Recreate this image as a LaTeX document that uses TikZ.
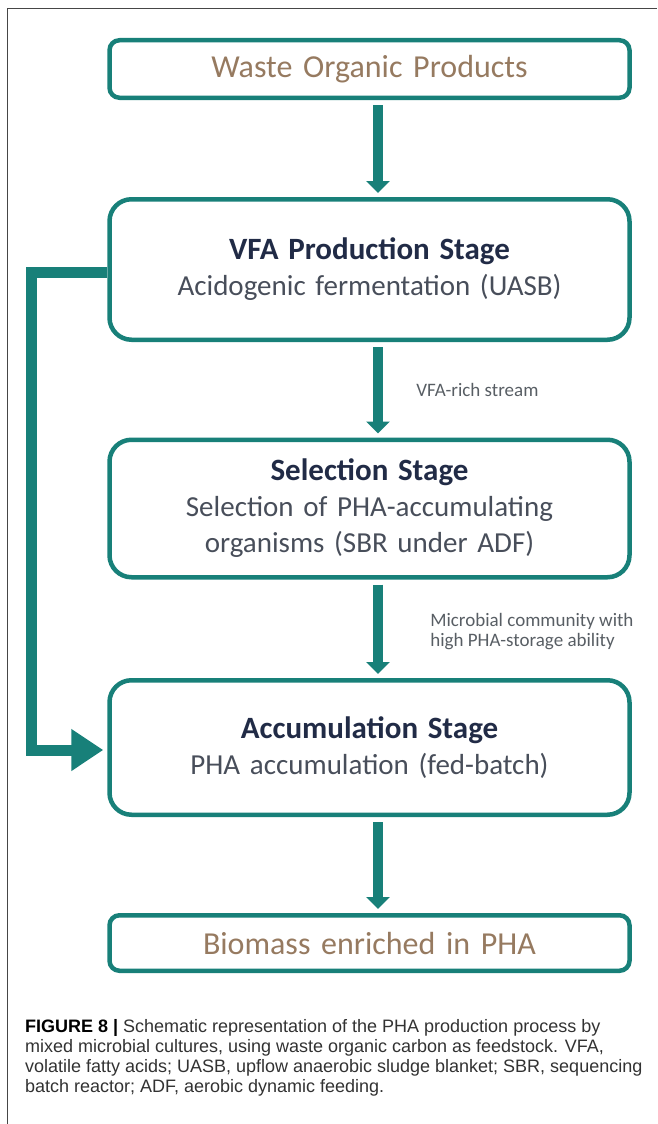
\documentclass[tikz,border=0pt]{standalone}
\usepackage{fontspec}
\setmainfont{Carlito}
\newfontfamily\capfont{Liberation Sans}
\usepackage{tikz}
\usetikzlibrary{arrows.meta, positioning}
\definecolor{teal}{RGB}{24,128,121}
\definecolor{tan}{RGB}{150,122,96}
\definecolor{navy}{RGB}{33,43,70}
\definecolor{slate}{RGB}{72,78,90}
\definecolor{note}{RGB}{88,94,100}
\definecolor{framegrey}{RGB}{70,70,70}
\definecolor{capgrey}{RGB}{50,50,50}
\newcommand{\stagehead}[1]{{\fontsize{31}{37}\selectfont\bfseries\color{navy}#1}}
\tikzstyle{stage} = [rectangle, rounded corners=22pt,
minimum width=520pt, text width=505pt, align=center,
line width=4.5pt, draw=teal, text=slate,
font=\fontsize{29}{36}\selectfont]
\tikzstyle{endbox} = [stage, rounded corners=10pt, text=tan,
font=\fontsize{32}{36}\selectfont]
\tikzstyle{arrow} = [line width=10pt, draw=teal,
-{Triangle[width=23pt,length=12pt]}, shorten <=5pt, shorten >=4pt]
\tikzstyle{loopback} = [line width=11pt, draw=teal,
-{Triangle[width=40pt,length=32pt]}, shorten >=4pt]
\tikzstyle{flowlabel} = [text=note, anchor=west, align=left,
font=\fontsize{19}{20}\selectfont]

\begin{document}
\begin{tikzpicture}[x=1pt, y=1pt, node distance=239pt]
    \useasboundingbox (0,0) rectangle (657,-1124);
    \draw [framegrey, line width=1.5pt] (7.5,-1124) -- (7.5,-8.5) -- (657,-8.5);

    \node (waste) [endbox, minimum height=57.5pt] at (369.5,-69)
        {Waste Organic Products};
    \node (vfa) [stage, minimum height=140.5pt, below of=waste, yshift=38.5pt]
        {\stagehead{VFA Production Stage} \\ Acidogenic fermentation (UASB)};
    \node (sel) [stage, minimum height=137.5pt, below of=vfa]
        {\stagehead{Selection Stage} \\ Selection of PHA-accumulating \\ organisms (SBR under ADF)};
    \node (acc) [stage, minimum height=134.5pt, below of=sel]
        {\stagehead{Accumulation Stage} \\ PHA accumulation (fed-batch)};
    \node (bio) [endbox, minimum height=55.5pt, below of=acc, yshift=43.5pt]
        {Biomass enriched in PHA};

    \draw [arrow] ([xshift=8.5pt]waste.south) -- ([xshift=8.5pt]vfa.north);
    \draw [arrow] ([xshift=8.5pt]vfa.south) --
        node [flowlabel, xshift=30pt] {VFA-rich stream} ([xshift=8.5pt]sel.north);
    \draw [arrow] ([xshift=8.5pt]sel.south) --
        node [flowlabel, xshift=44pt, yshift=-3pt] {Microbial community with \\ high PHA-storage ability}
        ([xshift=8.5pt]acc.north);
    \draw [arrow] ([xshift=8.5pt]acc.south) -- ([xshift=8.5pt]bio.north);
    \draw [loopback] ([yshift=-2.5pt]vfa.west) -- ++(-76,0) |- ([yshift=-2.5pt]acc.west);

    \node (caption) [anchor=north west, align=left, text=capgrey,
        font=\capfont\fontsize{18}{20}\selectfont] at (21.5,-1016)
        {\textbf{\color{black}FIGURE 8 |} Schematic representation of the PHA production process by \\
         mixed microbial cultures, using waste organic carbon as feedstock. VFA, \\
         volatile fatty acids; UASB, upflow anaerobic sludge blanket; SBR, sequencing \\
         batch reactor; ADF, aerobic dynamic feeding.};
\end{tikzpicture}
\end{document}
